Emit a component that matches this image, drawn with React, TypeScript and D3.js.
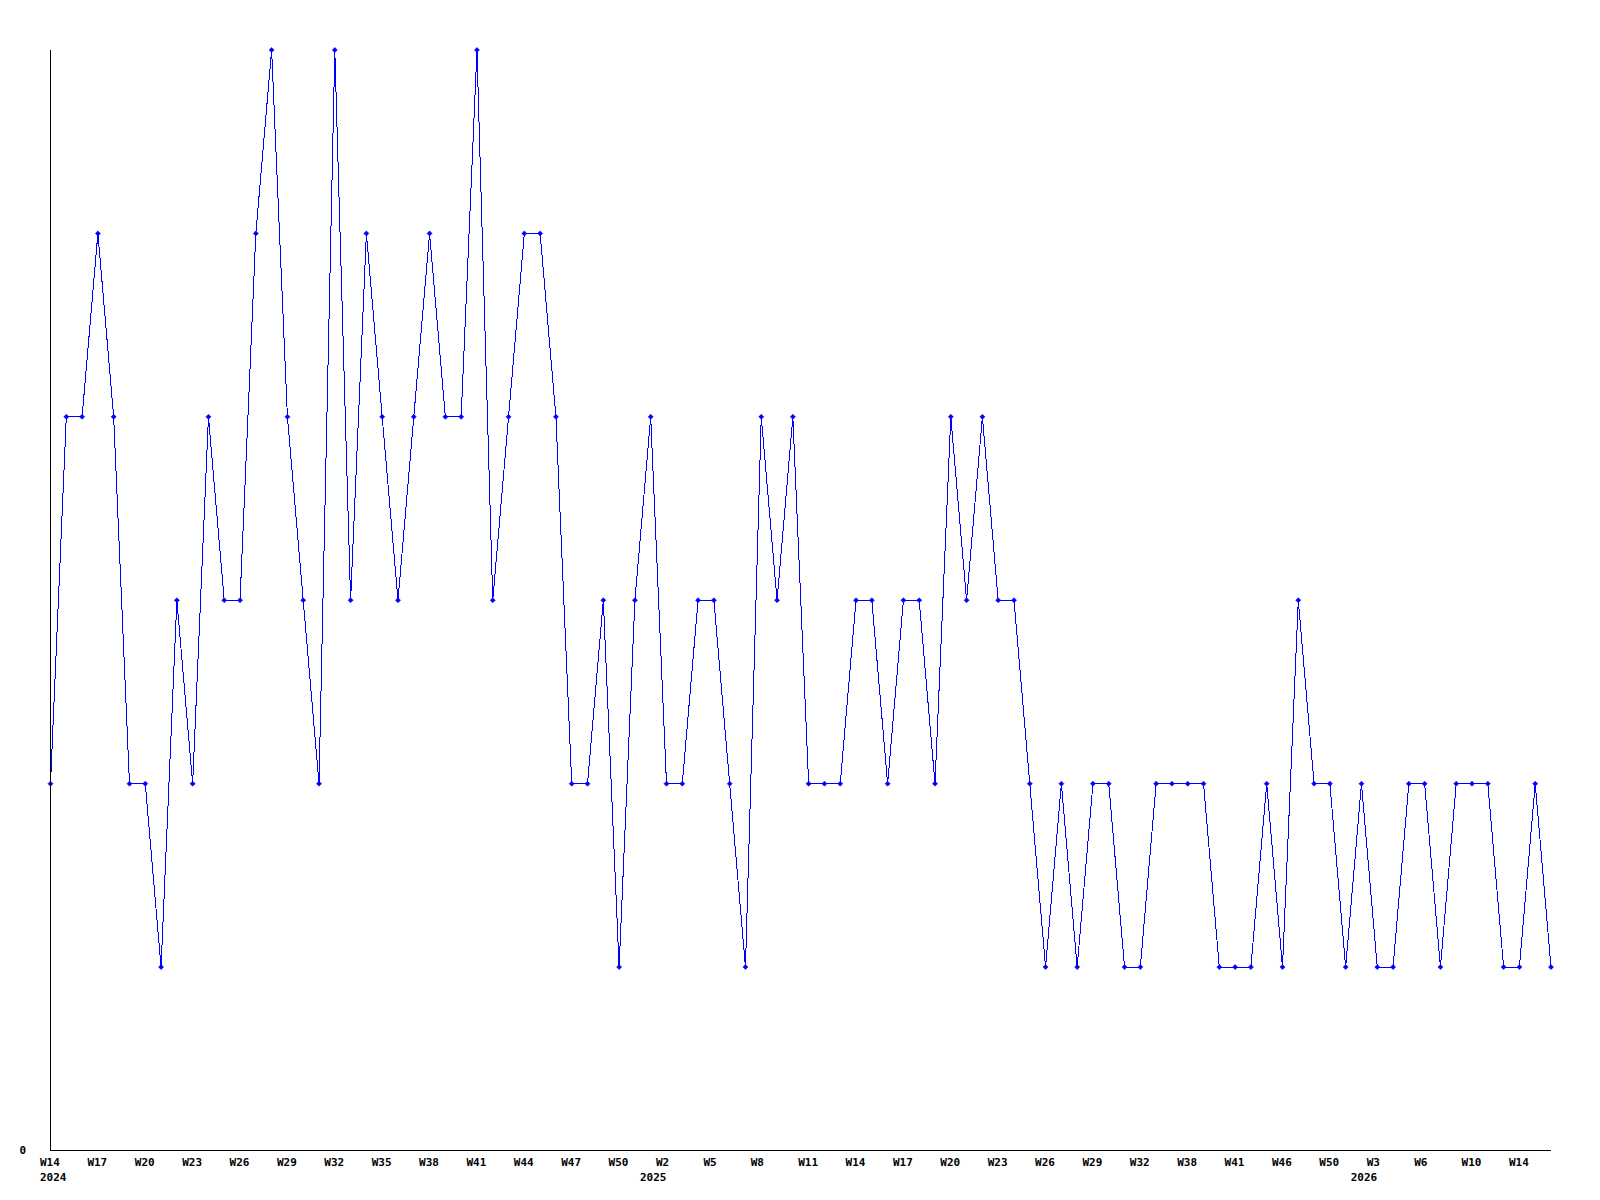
import React from 'react';
import * as d3 from 'd3';

// weekly values (only weeks that have data are plotted)
const values = [
  2, 4, 4, 5, 4, 2, 2, 1, 3, 2, 4, 3, 3, 5, 6, 4, 3, 2, 6, 3,
  5, 4, 3, 4, 5, 4, 4, 6, 3, 4, 5, 5, 4, 2, 2, 3, 1, 3, 4, 2,
  2, 3, 3, 2, 1, 4, 3, 4, 2, 2, 2, 3, 3, 2, 3, 3, 2, 4, 3, 4,
  3, 3, 2, 1, 2, 1, 2, 2, 1, 1, 2, 2, 2, 2, 1, 1, 1, 2, 1, 3,
  2, 2, 1, 2, 1, 1, 2, 2, 1, 2, 2, 2, 1, 1, 2, 1,
];

// a week label on every third point
const weekLabels = [
  'W14', 'W17', 'W20', 'W23', 'W26', 'W29', 'W32', 'W35', 'W38', 'W41', 'W44', 'W47', 'W50',
  'W2', 'W5', 'W8', 'W11', 'W14', 'W17', 'W20', 'W23', 'W26', 'W29', 'W32', 'W38', 'W41', 'W46', 'W50',
  'W3', 'W6', 'W10', 'W14',
];
const yearLabels = ['2024', '', '', '', '', '', '', '', '', '', '', '', '',
  '2025', '', '', '', '', '', '', '', '', '', '', '', '', '', '',
  '2026', '', '', ''];
const labelStep = 3;
const yMax = 6;

const W = 1600;
const H = 1200;
const left = 50.5;
const right = 1551;
const top = 50;
const bottom = 1150.5;
const font = '"DejaVu Sans Mono", monospace';

export default function App() {
  const x = d3.scaleLinear().domain([0, values.length - 1]).range([left, right]);
  const y = d3.scaleLinear().domain([0, yMax]).range([bottom, top]);

  const line = d3.line<number>()
    .x((_, i) => x(i))
    .y(d => y(d));

  const labelShift = 10.5;
  const yearWidth = 26.5;
  const minLeft = x(0) - labelShift;

  return (
    <div style={{ position: 'absolute', left: 0, top: 0 }}>
      <svg width={W} height={H} style={{ display: 'block', background: '#fff' }}>
        <path d={line(values) || ''} fill="none" stroke="#0000ff" strokeWidth={1} shapeRendering="crispEdges" />
        {values.map((v, i) => {
          const cx = x(i);
          const cy = y(v);
          return (
            <path key={i}
              d={`M${cx - 2.5},${cy}L${cx},${cy - 2.5}L${cx + 2.5},${cy}L${cx},${cy + 2.5}Z`}
              fill="#0000ff" stroke="#0000ff" strokeWidth={0.6} />
          );
        })}
        {/* axes */}
        <line x1={left} x2={left} y1={top} y2={bottom} stroke="#000" strokeWidth={1} shapeRendering="crispEdges" />
        <line x1={left} x2={right} y1={bottom} y2={bottom} stroke="#000" strokeWidth={1} shapeRendering="crispEdges" />
        <text x={26} y={1154} textAnchor="end" fontFamily={font} fontWeight="bold" fontSize={11}>0</text>
        {weekLabels.map((lab, k) => {
          const px = x(k * labelStep);
          return (
            <g key={k}>
              <text x={px - labelShift} y={1166} fontFamily={font} fontWeight="bold" fontSize={11}>{lab}</text>
              {yearLabels[k] && (
                // year ends at the tick, but never starts left of the first label
                <text x={Math.max(px, minLeft + yearWidth)} y={1181} textAnchor="end"
                  fontFamily={font} fontWeight="bold" fontSize={11}>{yearLabels[k]}</text>
              )}
            </g>
          );
        })}
      </svg>
    </div>
  );
}
